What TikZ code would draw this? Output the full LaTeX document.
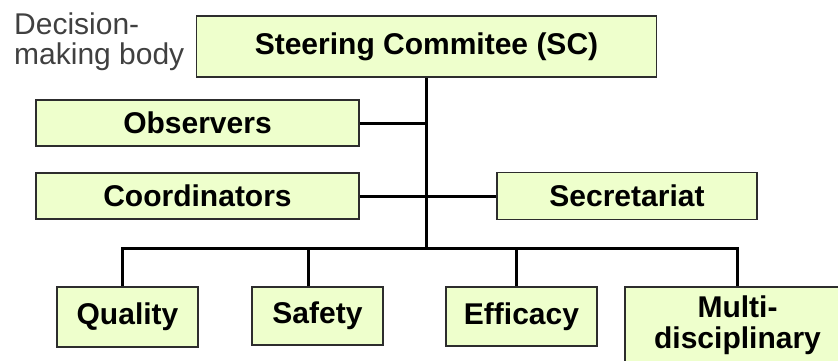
\documentclass[tikz,border=0pt]{standalone}
\usepackage{fontspec}
\setmainfont{Liberation Sans}
\usepackage{tikz}
\usetikzlibrary{}
\definecolor{boxfill}{RGB}{238,255,204}
\definecolor{boxline}{RGB}{45,45,45}
\definecolor{notegray}{RGB}{64,64,64}

\begin{document}
\begin{tikzpicture}[x=1pt,y=-1pt,
        box/.style={draw=boxline,line width=1.5pt,fill=boxfill,inner sep=0pt,
            align=center,font=\fontsize{30}{31}\selectfont\bfseries},
        link/.style={line width=3pt,black}]
        \useasboundingbox (0,0) rectangle (838,361);

        % Label on the left
        \node[anchor=north west,inner sep=0pt,align=left,text=notegray,
            font=\fontsize{30}{30}\selectfont] (note) at (14,13) {Decision-\\making body};

        % Top and middle boxes
        \node[box,minimum width=460pt,minimum height=61pt] (sc) at (426.5,46.5) {Steering Commitee (SC)};
        \node[box,minimum width=323pt,minimum height=46pt] (obs) at (197.5,123) {Observers};
        \node[box,minimum width=323pt,minimum height=46pt] (coord) at (197.5,196) {Coordinators};
        \node[box,minimum width=260pt,minimum height=47pt] (sec) at (627,196) {Secretariat};

        % Bottom row
        \node[box,minimum width=141pt,minimum height=60pt] (qual) at (127.5,317) {Quality};
        \node[box,minimum width=131pt,minimum height=58pt] (safe) at (317.5,316) {Safety};
        \node[box,minimum width=151pt,minimum height=59pt] (eff) at (521.5,316.5) {Efficacy};
        \node[box,minimum width=225pt,minimum height=76pt] (multi) at (737.5,325) {Multi-\\disciplinary};

        % Connectors
        \coordinate (bar) at (426.5,248);
        \draw[link] (sc.south) -- (bar);
        \draw[link] (obs.east) -- (obs.east -| bar);
        \draw[link] (coord.east) -- (sec.west);
        \draw[link] ([xshift=-5pt]qual.north) |- (bar) -| (multi.north);
        \draw[link] ([xshift=-9pt]safe.north) -- ([xshift=-9pt]safe.north |- bar);
        \draw[link] ([xshift=-5pt]eff.north) -- ([xshift=-5pt]eff.north |- bar);
    \end{tikzpicture}
\end{document}
